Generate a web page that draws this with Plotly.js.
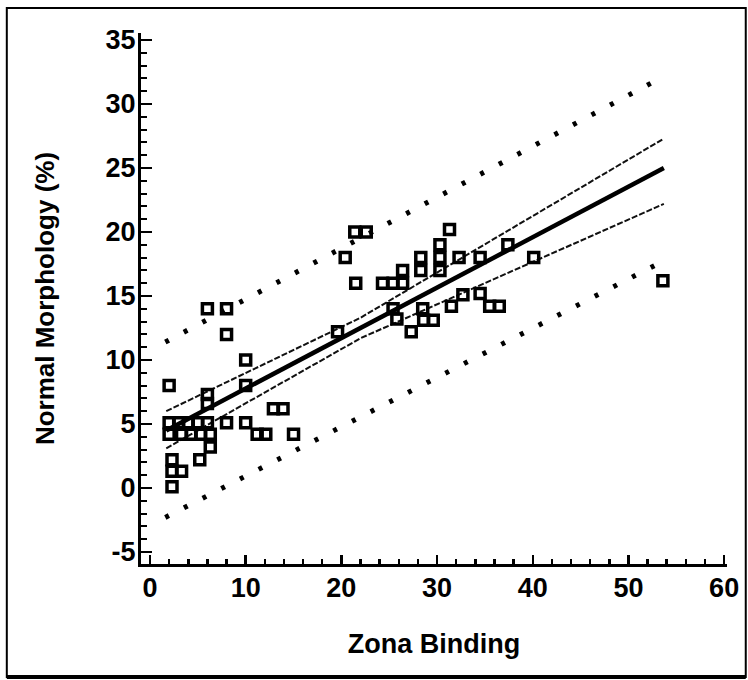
<!DOCTYPE html>
<html>
<head>
<meta charset="utf-8">
<script src="https://cdn.plot.ly/plotly-3.0.1.min.js"></script>
<style>html,body{margin:0;padding:0;background:#fff;}#chart{width:748px;height:680px;}</style>
</head>
<body>
<div id="chart"></div>
<script>
// Observed data (Zona Binding vs Normal Morphology %)
const zonaBinding = [2,2,2,2.3,2.3,3.3,2.3, 3,4,5,3.3,4.3,5.3,5.2, 6,8,8,10,10, 6,6,6,6.3,6.3, 8,10,11.2,12.1,12.9,13.9,15,
  19.6,20.4,21.4,22.6,21.5, 24.3,25.4,26.4,26.4, 28.3,28.3,30.3,30.3,30.3,31.3,32.3,34.5,37.4,40.1,
  25.4,25.8,27.3,28.5,28.6,29.6, 31.5,32.7,34.5,35.5,36.5, 53.6];
const normalMorph = [8,5.1,4.2,2.2,1.3,1.3,0.1, 5.1,5.1,5.1,4.2,4.2,4.2,2.2, 14,14,12,10,8, 7.3,6.6,5.1,4.2,3.2, 5.1,5.1,4.2,4.2,6.2,6.2,4.2,
  12.2,18,20,20,16, 16,16,16,17, 18,17,19,18,17,20.2,18,18,19,18,
  14,13.2,12.2,14,13.1,13.1, 14.2,15.1,15.2,14.2,14.2, 16.2];

// Regression line
const fitX = [1.7, 53.7];
const fitY = [4.5, 25.0];
// 95% confidence band of the mean
const ciX = [1.7, 22, 53.7];
const ciUpper = [6.0, 13.3, 27.3];
const ciLower = [3.1, 11.7, 22.2];
// Prediction interval
const piX = [1.6, 53.3];
const piUpper = [11.4, 32.0];
const piLower = [-2.3, 17.6];

const xTicks = [0,10,20,30,40,50,60];
const yTicks = [-5,0,5,10,15,20,25,30,35];

const traces = [
  {x: piX, y: piUpper, mode:'lines', line:{color:'#000', width:5, dash:'4px,17px'}, hoverinfo:'skip'},
  {x: piX, y: piLower, mode:'lines', line:{color:'#000', width:5, dash:'4px,17px'}, hoverinfo:'skip'},
  {x: ciX, y: ciUpper, mode:'lines', line:{color:'#111', width:2, dash:'6px,2px'}, hoverinfo:'skip'},
  {x: ciX, y: ciLower, mode:'lines', line:{color:'#111', width:2, dash:'6px,2px'}, hoverinfo:'skip'},
  {x: fitX, y: fitY, mode:'lines', line:{color:'#000', width:4.5}, hoverinfo:'skip'},
  {x: zonaBinding, y: normalMorph, mode:'markers',
   marker:{symbol:'square-open', size:10, color:'#000', line:{color:'#000', width:3.5}}}
];

const fam = '"Liberation Sans", Arial, sans-serif';
const layout = {
  width:748, height:680,
  margin:{l:141, r:21, t:33, b:116},
  paper_bgcolor:'#fff', plot_bgcolor:'#fff',
  showlegend:false,
  font: {family:fam, color:'#000'},
  xaxis:{
    range:[-0.94, 60.3], tickvals:xTicks, ticktext:xTicks.map(String),
    ticks:'inside', ticklen:9, tickwidth:2.5, tickcolor:'#000',
    minor:{dtick:2, tick0:0, ticks:'inside', ticklen:5, tickwidth:2.5, tickcolor:'#000'},
    showline:true, linecolor:'#000', linewidth:3, showgrid:false, zeroline:false,
    tickfont:{family:fam, size:27, color:'#000', weight:'bold'},
    ticklabelstandoff:-2,
    title:{text:'Zona Binding', font:{family:fam, size:27, color:'#000', weight:'bold'}, standoff:32}
  },
  yaxis:{
    range:[-5.94, 35.55], tickvals:yTicks, ticktext:yTicks.map(String),
    ticks:'inside', ticklen:11, tickwidth:2.5, tickcolor:'#000',
    minor:{dtick:1, tick0:0, ticks:'inside', ticklen:6, tickwidth:2, tickcolor:'#000'},
    showline:true, linecolor:'#000', linewidth:3, showgrid:false, zeroline:false,
    tickfont:{family:fam, size:27, color:'#000', weight:'bold'},
    ticklabelstandoff:-3,
    title:{text:'Normal Morphology (%)', font:{family:fam, size:26, color:'#000', weight:'bold'}, standoff:44}
  },
  shapes:[
    {type:'rect', xref:'paper', yref:'paper', x0:-0.229, x1:1.032, y0:-0.213, y1:1.047,
     line:{color:'#000', width:2}, fillcolor:'rgba(0,0,0,0)'},
    {type:'line', xref:'paper', yref:'paper', x0:-0.229, x1:1.032, y0:-0.213, y1:-0.213,
     line:{color:'#000', width:4}}
  ]
};

Plotly.newPlot('chart', traces, layout, {staticPlot:true, displayModeBar:false});
</script>
</body>
</html>
